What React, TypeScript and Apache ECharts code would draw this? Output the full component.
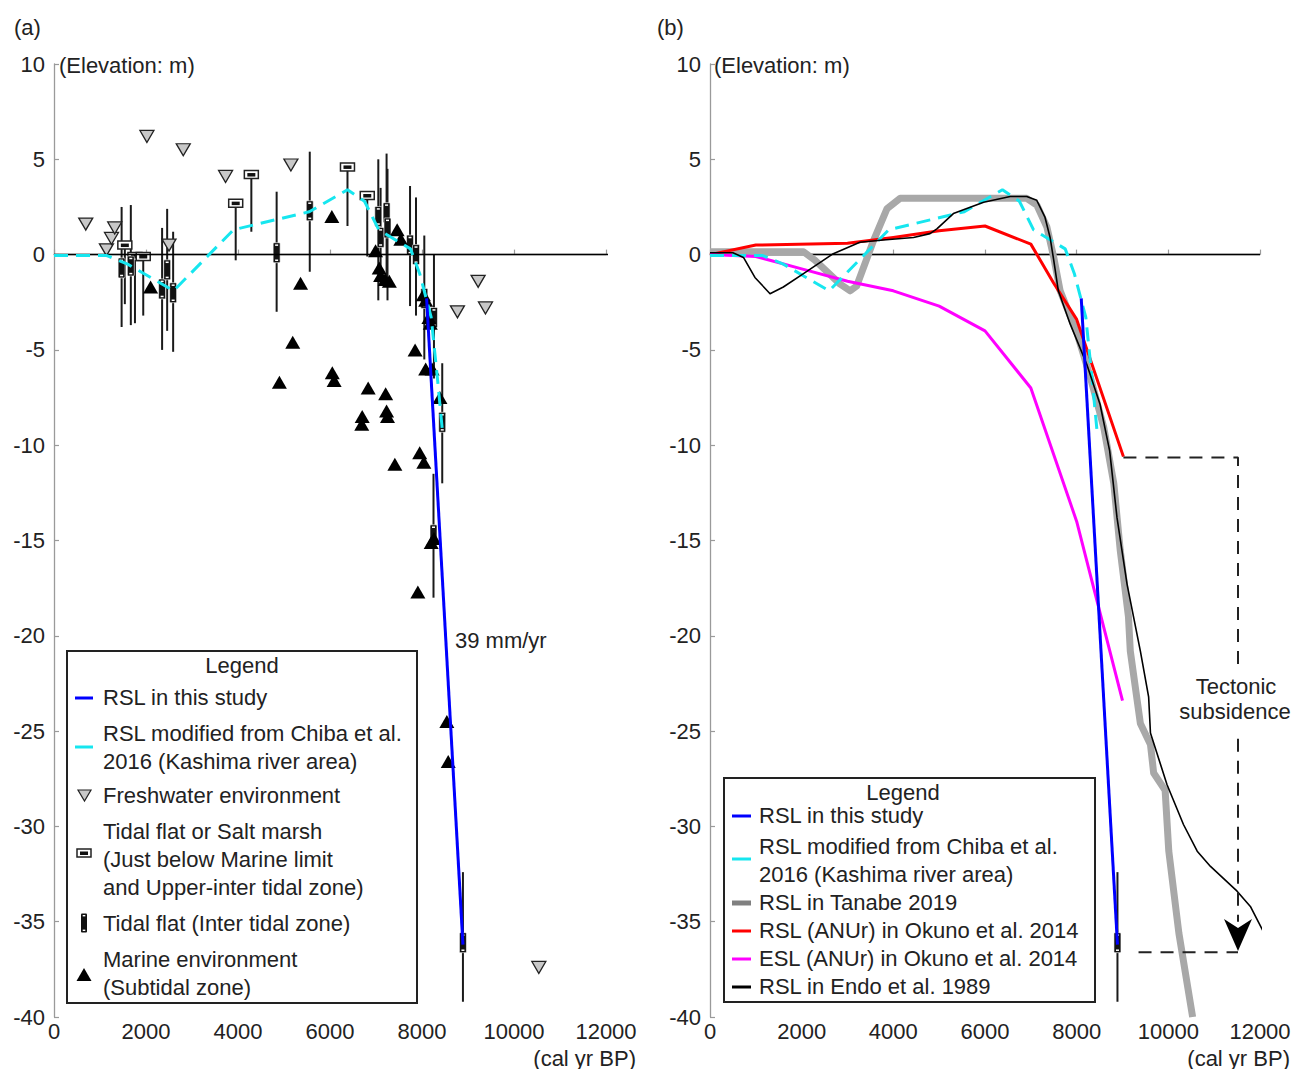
import React, { useEffect, useRef } from "react";
import * as echarts from "echarts";

const FONT = '"Liberation Sans", Arial, Helvetica, sans-serif';
const TEXT = "#222";
const FS = 22;

// ---------- axis ticks ----------
const xTickValues = [0, 2000, 4000, 6000, 8000, 10000, 12000];
const yTickValues = [10, 5, 0, -5, -10, -15, -20, -25, -30, -35, -40];

// ---------- Panel (a) data: [age cal yr BP, elevation m] ----------
const rslThisStudy = [[8100, -2.3], [8890, -36.2]];
const chibaRSL = [
  [0, -0.05], [1150, -0.05], [1600, -0.5], [2600, -1.9], [3900, 1.3], [5550, 2.25],
  [6380, 3.4], [6750, 2.8], [7060, 1.3], [7750, 0.3], [7950, -1.0], [8200, -3.3],
  [8340, -6.6], [8450, -9.4],
];
const freshwater = [
  [690, 1.6], [1140, 0.25], [1250, 0.85], [1320, 1.4], [2020, 6.2], [2500, 0.5],
  [2810, 5.5], [3730, 4.1], [5150, 4.7], [8770, -3.0], [9220, -1.4], [9380, -2.8],
  [10540, -37.4],
];
const marine = [
  [2100, -1.7], [4900, -6.7], [5190, -4.6], [5360, -1.5], [6040, 2.0], [6050, -6.2],
  [6090, -6.6], [6690, -8.9], [6700, -8.5], [6830, -7.0], [6990, 0.2], [7070, -0.7],
  [7100, -1.1], [7200, -1.3], [7290, -1.4], [7210, -7.3], [7230, -8.2], [7250, -8.5],
  [7410, -11.0], [7460, 1.3], [7540, 0.8], [7850, -5.0], [7910, -17.7], [7950, -10.4],
  [8030, -2.1], [8040, -10.9], [8080, -2.4], [8080, -6.0], [8150, -3.3], [8180, -3.6],
  [8200, -15.1], [8220, -6.0], [8260, -14.9], [8390, -7.5], [8540, -24.5], [8570, -26.6],
];
// [age, elevation, upper bound, lower bound]
const tidalFlat = [
  [1470, -0.7, 2.5, -3.8], [1670, -0.6, 2.6, -3.7], [2350, -1.8, 1.4, -5.0],
  [2460, -0.8, 2.4, -4.0], [2590, -2.0, 1.2, -5.1], [4840, 0.1, 3.3, -3.0],
  [5560, 2.3, 5.4, -0.9], [7050, 2.0, 5.0, -2.4], [7100, 0.9, 3.5, -1.6],
  [7230, 2.2, 5.3, -1.2], [7250, 1.4, 4.5, -2.4], [7740, 0.5, 3.6, -2.7],
  [7870, 0.0, 3.0, -3.2], [8050, -2.3, 1.0, -5.5], [8260, -3.3, 0.0, -6.5],
  [8440, -8.8, -5.7, -12.0], [8250, -14.7, -11.5, -18.0], [8890, -36.1, -32.4, -39.2],
];
// [age, elevation, lower bound]
const saltMarsh = [
  [1540, 0.5, -2.6], [1760, -0.1, -3.6], [1940, -0.1, -3.2], [3950, 2.7, -0.3],
  [4290, 4.2, 1.2], [6380, 4.6, 1.5], [6810, 3.1, -0.1],
];

// ---------- Panel (b) data ----------
const tanabe2019 = [
  [0, 0.15], [2040, 0.15], [2290, -0.3], [2840, -1.55], [3060, -1.9], [3200, -1.65],
  [3570, 0.75], [3860, 2.4], [4150, 2.95], [6910, 2.95], [7130, 2.6], [7350, 1.45],
  [7500, -0.15], [7640, -1.9], [8010, -4.15], [8300, -6.45], [8590, -9.05],
  [8810, -12.0], [8950, -15.5], [9130, -19.0], [9170, -20.8], [9320, -23.4],
  [9390, -24.6], [9610, -25.7], [9680, -27.2], [9930, -28.1], [10010, -31.3],
  [10230, -35.6], [10530, -40],
];
const okunoRSL = [
  [0, 0], [1000, 0.5], [3000, 0.6], [4000, 0.9], [5000, 1.25], [6000, 1.5],
  [7000, 0.55], [7500, -1.5], [8000, -3.4], [9020, -10.6],
];
const okunoESL = [
  [0, 0], [1000, -0.1], [2000, -0.75], [3000, -1.4], [4000, -1.9], [5000, -2.7],
  [6000, -4.0], [7000, -7.0], [8000, -14.0], [9000, -23.4],
];
const endo1989 = [
  [0, 0.1], [500, 0.1], [730, -0.15], [980, -1.2], [1310, -2.05], [1600, -1.7],
  [2040, -1.0], [2690, 0.05], [3270, 0.65], [3780, 0.77], [4440, 0.9], [4800, 1.1],
  [4950, 1.35], [5310, 2.15], [5970, 2.75], [6550, 3.05], [6910, 3.05], [7130, 2.85],
  [7310, 1.95], [7420, 0.9], [7500, -0.3], [7600, -1.9], [7860, -3.65], [8220, -5.75],
  [8510, -7.85], [8720, -10.3], [8880, -13.8], [9100, -17.3], [9390, -20.8],
  [9570, -23.2], [9610, -25.1], [9970, -27.8], [10330, -29.9], [10630, -31.3],
  [10920, -32.1], [11500, -33.4], [11790, -34.2], [12080, -35.55],
];
const tidalFlatB = [[8890, -36.1, -32.4, -39.2]];
const tectonicTop = [[9020, -10.65], [11520, -10.65], [11520, -21.8]];
const tectonicDown = [[11520, -25.4], [11520, -35.0]];
const tectonicBase = [[9350, -36.6], [11520, -36.6]];
const arrowHead = [[11520, -35.7]];

// ---------- legend texts ----------
const legendATexts = [
  "RSL in this study",
  "RSL modified from Chiba et al.\n2016 (Kashima river area)",
  "Freshwater environment",
  "Tidal flat or Salt marsh\n(Just below Marine limit\nand Upper-inter tidal zone)",
  "Tidal flat (Inter tidal zone)",
  "Marine environment\n(Subtidal zone)",
];
const legendBTexts = [
  "RSL in this study",
  "RSL modified from Chiba et al.\n2016 (Kashima river area)",
  "RSL in Tanabe 2019",
  "RSL (ANUr) in Okuno et al. 2014",
  "ESL (ANUr) in Okuno et al. 2014",
  "RSL in Endo et al. 1989",
];

const BLUE = "#0000ff";
const CYAN = "#16e6ef";
const GRAY = "#a8a8a8";
const RED = "#ff0000";
const MAGENTA = "#ff00ff";

function txt(x: number, y: number, text: string, align = "left", size = FS) {
  return {
    type: "text",
    x,
    y,
    silent: true,
    style: {
      text,
      fill: TEXT,
      font: `${size}px ${FONT}`,
      align,
      textAlign: align,
      verticalAlign: "middle",
      textVerticalAlign: "middle",
      lineHeight: 28,
    },
  };
}
function hline(x1: number, x2: number, y: number, color: string, w: number) {
  return { type: "line", silent: true, shape: { x1, y1: y, x2, y2: y }, style: { stroke: color, lineWidth: w } };
}
function tidalIcon(cx: number, cy: number) {
  return {
    type: "group",
    children: [
      { type: "rect", shape: { x: cx - 3, y: cy - 9.5, width: 6, height: 19, r: 1 }, style: { fill: "#111" } },
      { type: "rect", shape: { x: cx - 1.3, y: cy - 8, width: 2.6, height: 1.4 }, style: { fill: "#fff" } },
      { type: "rect", shape: { x: cx - 1.3, y: cy + 6.6, width: 2.6, height: 1.4 }, style: { fill: "#fff" } },
    ],
  };
}
function saltIcon(cx: number, cy: number) {
  return {
    type: "group",
    children: [
      { type: "rect", shape: { x: cx - 7, y: cy - 4, width: 14, height: 8 }, style: { fill: "#fff", stroke: "#222", lineWidth: 1.5 } },
      { type: "rect", shape: { x: cx - 4, y: cy - 1.5, width: 8, height: 3.5 }, style: { fill: "#111" } },
    ],
  };
}

function buildGraphic() {
  const g: any[] = [];
  // panel labels & axis titles
  g.push(txt(14, 27, "(a)"));
  g.push(txt(657, 27, "(b)"));
  g.push(txt(59, 65, "(Elevation: m)"));
  g.push(txt(714, 65, "(cal yr BP)".length ? "(Elevation: m)" : ""));
  g.push(txt(636, 1058, "(cal yr BP)", "right"));
  g.push(txt(1290, 1058, "(cal yr BP)", "right"));
  g.push(txt(455, 640, "39 mm/yr"));
  g.push(txt(1236, 686, "Tectonic", "center"));
  g.push(txt(1235, 711, "subsidence", "center"));

  // legend (a)
  g.push({ type: "rect", silent: true, shape: { x: 67, y: 651, width: 350, height: 352 }, style: { fill: "#fff", stroke: "#222", lineWidth: 2 } });
  g.push(txt(242, 665, "Legend", "center"));
  const aY = [697, 747, 795, 859, 923, 973];
  legendATexts.forEach((t, i) => g.push(txt(103, aY[i], t)));
  g.push(hline(75, 93, 698, BLUE, 3));
  g.push(hline(75, 93, 747, CYAN, 3));
  g.push({ type: "polygon", silent: true, shape: { points: [[78, 790], [91, 790], [84.5, 801]] }, style: { fill: "#c8c8c8", stroke: "#222", lineWidth: 1.2 } });
  g.push(saltIcon(84, 853));
  g.push(tidalIcon(84, 923));
  g.push({ type: "polygon", silent: true, shape: { points: [[76.5, 981], [91.5, 981], [84, 968]] }, style: { fill: "#000" } });

  // legend (b)
  g.push({ type: "rect", silent: true, shape: { x: 724, y: 778, width: 371, height: 224 }, style: { fill: "#fff", stroke: "#222", lineWidth: 2 } });
  g.push(txt(903, 792, "Legend", "center"));
  const bY = [815, 860, 902, 930, 958, 986];
  legendBTexts.forEach((t, i) => g.push(txt(759, bY[i], t)));
  g.push(hline(732, 751, 816, BLUE, 3));
  g.push(hline(732, 751, 859, CYAN, 3));
  g.push(hline(732, 751, 903, "#808080", 5));
  g.push(hline(732, 751, 931, RED, 3));
  g.push(hline(732, 751, 959, MAGENTA, 3));
  g.push(hline(732, 751, 987, "#000", 3));
  return g;
}

function axisPair(grid: number) {
  const axisLine = { show: true, lineStyle: { color: "#9a9a9a", width: 1.3 } };
  const axisTick = { show: true, inside: true, length: 5, lineStyle: { color: "#9a9a9a", width: 1.2 } };
  const label = { color: TEXT, fontSize: FS, fontFamily: FONT };
  return {
    x: {
      type: "value", gridIndex: grid, min: xTickValues[0], max: xTickValues[xTickValues.length - 1], interval: 2000,
      axisLine, axisTick, splitLine: { show: false },
      axisLabel: { ...label, margin: 3, formatter: (v: number) => String(v) },
    },
    y: {
      type: "value", gridIndex: grid, min: yTickValues[yTickValues.length - 1], max: yTickValues[0], interval: 5,
      axisLine, axisTick, splitLine: { show: false },
      axisLabel: { ...label, margin: 9, formatter: (v: number) => String(v) },
    },
  };
}

function errorBarSeries(data: number[][], gi: number, hasTop: boolean) {
  return {
    type: "custom", xAxisIndex: gi, yAxisIndex: gi, silent: true, clip: false,
    encode: { x: 0, y: 1 },
    renderItem: (_p: any, api: any) => {
      const t = api.value(0);
      const top = hasTop ? api.value(2) : api.value(1);
      const bot = hasTop ? api.value(3) : api.value(2);
      const a = api.coord([t, top]);
      const b = api.coord([t, bot]);
      return { type: "line", shape: { x1: a[0], y1: a[1], x2: b[0], y2: b[1] }, style: { stroke: "#1a1a1a", lineWidth: 2 } };
    },
    data,
  };
}
function tidalSeries(data: number[][], gi: number) {
  return {
    type: "custom", xAxisIndex: gi, yAxisIndex: gi, silent: true, clip: false,
    encode: { x: 0, y: 1 },
    renderItem: (_p: any, api: any) => {
      const c = api.coord([api.value(0), api.value(1)]);
      return {
        type: "group",
        children: [
          { type: "rect", shape: { x: c[0] - 3.5, y: c[1] - 10, width: 7, height: 20, r: 1 }, style: { fill: "#111", stroke: "#fff", lineWidth: 0.6 } },
          { type: "rect", shape: { x: c[0] - 1.5, y: c[1] - 8.3, width: 3, height: 1.5 }, style: { fill: "#fff" } },
          { type: "rect", shape: { x: c[0] - 1.5, y: c[1] + 6.8, width: 3, height: 1.5 }, style: { fill: "#fff" } },
        ],
      };
    },
    data,
  };
}
function saltSeries(data: number[][], gi: number) {
  return {
    type: "custom", xAxisIndex: gi, yAxisIndex: gi, silent: true, clip: false,
    encode: { x: 0, y: 1 },
    renderItem: (_p: any, api: any) => {
      const c = api.coord([api.value(0), api.value(1)]);
      return {
        type: "group",
        children: [
          { type: "rect", shape: { x: c[0] - 7, y: c[1] - 4, width: 14, height: 8 }, style: { fill: "#fff", stroke: "#222", lineWidth: 1.5 } },
          { type: "rect", shape: { x: c[0] - 4, y: c[1] - 1.5, width: 8, height: 3.5 }, style: { fill: "#111" } },
        ],
      };
    },
    data,
  };
}
function lineS(data: number[][], gi: number, color: string, width: number, extra: any = {}) {
  return {
    type: "line", xAxisIndex: gi, yAxisIndex: gi, data, symbol: "none", silent: true,
    lineStyle: { color, width, cap: "butt", join: "round", ...(extra.lineStyle || {}) },
    itemStyle: { color },
    ...extra,
    lineStyle2: undefined,
  };
}

export default function App() {
  const ref = useRef<HTMLDivElement>(null);
  useEffect(() => {
    if (!ref.current) return;
    const chart = echarts.init(ref.current, null, { renderer: "svg" });
    const A = axisPair(0);
    const B = axisPair(1);
    const series: any[] = [
      // ---- panel a ----
      lineS([[0, 0], [12130, 0]], 0, "#000", 1.5, { clip: false }),
      errorBarSeries(tidalFlat, 0, true),
      errorBarSeries(saltMarsh, 0, false),
      lineS(chibaRSL, 0, CYAN, 3, { lineStyle: { color: CYAN, width: 3, type: [14, 8] } }),
      lineS(rslThisStudy, 0, BLUE, 3),
      {
        type: "scatter", xAxisIndex: 0, yAxisIndex: 0, data: freshwater, silent: true,
        symbol: "triangle", symbolRotate: 180, symbolSize: [14, 12],
        itemStyle: { color: "#c8c8c8", borderColor: "#222", borderWidth: 1.3, opacity: 1 },
      },
      saltSeries(saltMarsh, 0),
      tidalSeries(tidalFlat, 0),
      {
        type: "scatter", xAxisIndex: 0, yAxisIndex: 0, data: marine, silent: true,
        symbol: "triangle", symbolSize: [15, 13],
        itemStyle: { color: "#000", opacity: 1 },
      },
      // ---- panel b ----
      lineS([[0, 0], [12000, 0]], 1, "#000", 1.5),
      lineS(tanabe2019, 1, GRAY, 7),
      lineS(okunoRSL, 1, RED, 3),
      lineS(okunoESL, 1, MAGENTA, 3),
      lineS(chibaRSL, 1, CYAN, 3, { lineStyle: { color: CYAN, width: 3, type: [14, 8] } }),
      lineS(endo1989, 1, "#000", 1.6, { clip: false }),
      lineS(rslThisStudy, 1, BLUE, 3),
      errorBarSeries(tidalFlatB, 1, true),
      tidalSeries(tidalFlatB, 1),
      lineS(tectonicTop, 1, "#222", 2, { lineStyle: { color: "#222", width: 2, type: [13, 9] }, clip: false }),
      lineS(tectonicDown, 1, "#222", 2, { lineStyle: { color: "#222", width: 2, type: [13, 9] }, clip: false }),
      lineS(tectonicBase, 1, "#222", 2, { lineStyle: { color: "#222", width: 2, type: [13, 9] }, clip: false }),
      {
        type: "scatter", xAxisIndex: 1, yAxisIndex: 1, data: arrowHead, silent: true,
        symbol: "path://M0,0 L14,9 L28,0 L14,32 Z", symbolSize: [28, 32], symbolKeepAspect: false,
        itemStyle: { color: "#000", opacity: 1 },
      },
    ];
    series.forEach((s) => { if ("lineStyle2" in s) delete s.lineStyle2; });
    chart.setOption({
      animation: false,
      backgroundColor: "#fff",
      textStyle: { fontFamily: FONT },
      grid: [
        { left: 54, top: 64, width: 552, height: 953 },
        { left: 710, top: 64, width: 550, height: 953 },
      ],
      xAxis: [A.x, B.x],
      yAxis: [A.y, B.y],
      series,
      graphic: buildGraphic(),
    });
    return () => chart.dispose();
  }, []);
  return (
    <div
      ref={ref}
      style={{ position: "absolute", left: 0, top: 0, width: 1295, height: 1069, background: "#fff" }}
    />
  );
}
